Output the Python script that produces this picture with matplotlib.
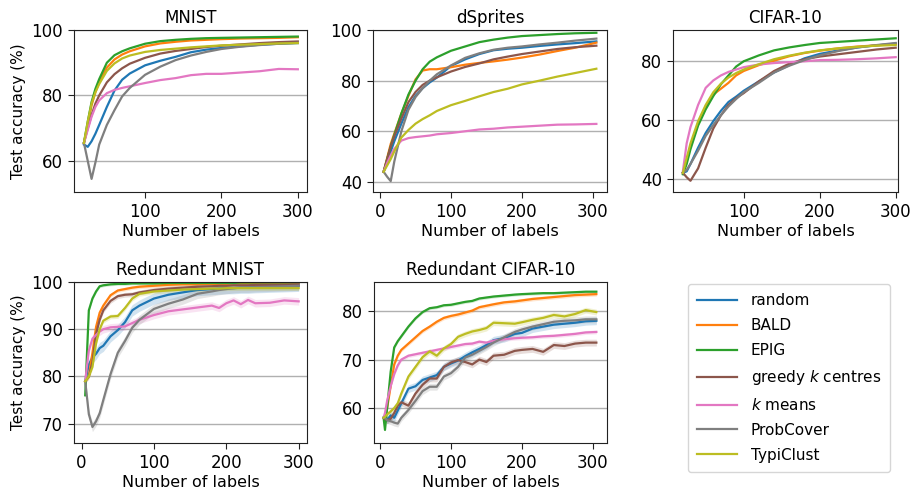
import numpy as np
import matplotlib
matplotlib.use('Agg')
import matplotlib.pyplot as plt

plt.rcParams['font.family'] = ['DejaVu Sans']
plt.rcParams['mathtext.fontset'] = 'dejavusans'

methods = ['random', 'BALD', 'EPIG', 'greedy $k$ centres', '$k$ means', 'ProbCover', 'TypiClust']
colors = ['#1f77b4', '#ff7f0e', '#2ca02c', '#8c564b', '#e377c2', '#7f7f7f', '#bcbd22']

# ---- MNIST ----
mnist_x = [20, 25, 30, 35, 40, 50, 60, 70, 80, 100, 120, 140, 160, 180, 200, 225, 250, 275, 300]
mnist_y = {
    'random':    [65, 64.3, 66, 68.3, 71, 76.5, 81.5, 84.8, 86.7, 89.2, 90.6, 91.8, 93.2, 94.0, 94.5, 95, 95.5, 95.8, 96.0],
    'BALD':      [65.5, 71, 77, 81, 84, 88.5, 91, 92.5, 93.5, 95, 95.9, 96.4, 96.8, 97, 97.2, 97.4, 97.5, 97.6, 97.8],
    'EPIG':      [65.5, 72, 78, 82, 85, 90, 92.3, 93.5, 94.4, 95.8, 96.6, 97, 97.3, 97.5, 97.6, 97.7, 97.8, 97.9, 98.0],
    'greedy':    [65.5, 70, 74, 77.5, 80, 84, 86.5, 88.3, 89.7, 91.5, 92.8, 93.6, 94.2, 94.8, 95.2, 95.6, 96, 96.3, 96.5],
    'kmeans':    [65.5, 69.5, 73.5, 76.5, 78.5, 80.7, 81.7, 82.3, 82.8, 83.8, 84.7, 85.3, 86.2, 86.6, 86.6, 87, 87.4, 88.1, 88.0],
    'probcover': [65.5, 60, 54.5, 59.5, 65, 71, 75.5, 79.7, 82.3, 86.3, 88.8, 90.8, 92.2, 93.3, 94.2, 94.9, 95.4, 95.8, 96.1],
    'typiclust': [65.5, 72, 77.5, 81, 83.5, 87.5, 89.8, 91.3, 92.2, 93.3, 93.9, 94.3, 94.7, 95, 95.3, 95.5, 95.7, 95.9, 96.0],
}

# ---- dSprites ----
dsprites_x = [5, 10, 15, 20, 30, 40, 50, 60, 70, 80, 100, 120, 140, 160, 180, 200, 225, 250, 275, 305]
dsprites_y = {
    'random':    [44, 48, 52, 56, 63, 69.5, 74, 77, 79.3, 81.2, 85.8, 88.4, 90.5, 92, 92.6, 93, 93.7, 94.3, 94.8, 95.5],
    'BALD':      [44, 49.5, 55, 59, 67, 74, 80.5, 84, 84.5, 84.5, 85.3, 86.3, 87, 87.6, 88.3, 89.1, 90.3, 91.7, 93, 95],
    'EPIG':      [44, 49, 54, 58.5, 67, 74.5, 80, 84.5, 87.5, 89.2, 91.8, 93.5, 95.2, 96.2, 97, 97.6, 98, 98.4, 98.7, 98.9],
    'greedy':    [44, 49, 54, 58, 65, 71.5, 75.5, 78.3, 80, 81.3, 83.6, 85.4, 86.8, 88.4, 89.5, 90.5, 91.5, 92.5, 93.2, 93.8],
    'kmeans':    [44, 47.5, 50.5, 53, 56.3, 57.3, 57.7, 58, 58.3, 58.8, 59.3, 60, 60.7, 61, 61.5, 61.8, 62.2, 62.6, 62.7, 62.9],
    'probcover': [44, 42, 40.3, 48, 60, 68.5, 73.5, 77, 80, 82.5, 86, 89, 90.8, 92.2, 93, 93.5, 94.3, 95, 95.8, 96.6],
    'typiclust': [44, 46.5, 49, 52, 57.5, 60.5, 63, 64.8, 66.3, 68, 70.3, 72, 73.8, 75.5, 76.8, 78.5, 80, 81.6, 83, 84.7],
}

# ---- CIFAR-10 ----
cifar_x = [20, 25, 30, 40, 50, 60, 70, 80, 90, 100, 120, 140, 160, 180, 200, 225, 250, 275, 300]
cifar_y = {
    'random':    [42, 42.5, 45, 50.5, 55.5, 59.5, 63, 66, 67.8, 69.8, 73, 76, 78.5, 80.8, 82.3, 83.5, 84.5, 85.2, 85.8],
    'BALD':      [42, 46, 51, 58.5, 64.5, 68.5, 70.5, 72.5, 75, 76.5, 78.5, 80, 81.5, 82.6, 83.4, 84.2, 84.8, 85.2, 85.6],
    'EPIG':      [41.5, 45, 50, 58, 63.5, 68, 72, 75, 78, 79.8, 81.8, 83.5, 84.5, 85.3, 86, 86.4, 86.8, 87.2, 87.6],
    'greedy':    [42, 40.5, 39.3, 43.5, 50.5, 57, 61.5, 65, 67.3, 69, 73, 76.5, 79, 80.5, 81.4, 82.2, 83, 83.8, 84.4],
    'kmeans':    [42.5, 52, 57.5, 65, 70.8, 73.3, 75, 76.2, 77, 77.8, 78.7, 79.2, 79.5, 79.8, 80.2, 80.3, 80.5, 80.8, 81.2],
    'probcover': [42, 43, 45, 49.5, 54.5, 58.2, 61.5, 64.5, 67, 69.3, 72.5, 76, 78.3, 80.2, 81.8, 83.3, 84.5, 85.3, 86],
    'typiclust': [42, 47, 52, 59.5, 65, 69.3, 72.2, 74.3, 75.8, 77, 78.8, 80.5, 81.7, 82.7, 83.5, 84.2, 84.7, 85.1, 85.3],
}

# ---- Redundant MNIST ----
rmnist_x = [5, 10, 15, 20, 25, 30, 40, 50, 60, 70, 80, 100, 120, 140, 160, 180, 190, 200, 210, 220, 230, 240, 260, 280, 300]
rmnist_y = {
    'random':    [79, 82.5, 84, 84.8, 86, 86.5, 88.5, 89.8, 91.5, 94, 95, 96.5, 97.3, 97.8, 98.3, 98.5, 98.6, 98.7, 98.7, 98.8, 98.8, 98.9, 99, 99.1, 99.2],
    'BALD':      [79, 80, 85, 90.5, 93.5, 95, 97.2, 98.2, 98.5, 98.8, 99, 99.2, 99.4, 99.5, 99.5, 99.6, 99.6, 99.6, 99.7, 99.7, 99.7, 99.7, 99.7, 99.8, 99.8],
    'EPIG':      [76, 94, 96.5, 98, 99.1, 99.3, 99.5, 99.6, 99.6, 99.7, 99.7, 99.7, 99.8, 99.8, 99.8, 99.8, 99.8, 99.8, 99.8, 99.9, 99.9, 99.9, 99.9, 99.9, 99.9],
    'greedy':    [79, 80, 83, 89, 92, 94, 96, 97, 97.3, 97.4, 97.8, 98.3, 98.6, 98.8, 99, 99.1, 99.2, 99.2, 99.3, 99.3, 99.3, 99.4, 99.4, 99.4, 99.5],
    'kmeans':    [79, 85.5, 88, 88.8, 89.5, 90, 90.4, 90.5, 90.6, 91.3, 92, 93, 93.8, 94.2, 94.6, 95, 94.5, 95.5, 96.1, 95.3, 96.2, 95.5, 95.6, 96.1, 95.9],
    'probcover': [79, 72, 69.3, 70.5, 72.2, 75, 80.5, 85, 87.5, 90.3, 92, 94.3, 95.4, 96.3, 97.5, 98, 98.3, 98.5, 98.7, 98.8, 98.8, 98.9, 99, 99.1, 99.2],
    'typiclust': [79, 80, 82, 87, 90, 91.8, 92.7, 92.8, 94.5, 96.5, 97.5, 98, 98.2, 98.4, 98.5, 98.6, 98.6, 98.7, 98.7, 98.7, 98.7, 98.7, 98.7, 98.7, 98.7],
}
rmnist_band = [1.2, 0.4, 0.3, 0.5, 0.8, 1.0, 0.5]

# ---- Redundant CIFAR-10 ----
rcifar_x = [5, 7, 10, 15, 20, 25, 30, 40, 50, 60, 70, 80, 90, 100, 110, 120, 130, 140, 150, 160, 175, 190, 200, 215, 230, 245, 260, 275, 290, 305]
rcifar_y = {
    'random':    [58, 58.5, 57.5, 58.5, 58, 59.5, 61, 64, 64.5, 65.8, 66.3, 66.8, 68.5, 69.2, 69.8, 70.7, 71.5, 72.2, 73, 74, 74.4, 75.3, 75.5, 76.4, 76.8, 77.2, 77.4, 77.6, 77.9, 78],
    'BALD':      [58, 57.5, 60, 64.5, 69, 70.8, 72, 73.3, 74.6, 75.9, 76.8, 77.8, 78.6, 79, 79.3, 79.7, 80.1, 80.8, 81.1, 81.4, 81.8, 82, 82.2, 82.5, 82.7, 82.9, 83.1, 83.3, 83.4, 83.5],
    'EPIG':      [58, 55.5, 60, 67.5, 72.5, 73.8, 74.8, 76.8, 78.5, 79.8, 80.6, 80.8, 81.2, 81.3, 81.6, 81.9, 82.1, 82.6, 82.8, 83, 83.2, 83.4, 83.5, 83.6, 83.7, 83.7, 83.8, 83.9, 84, 84],
    'greedy':    [58, 57.8, 57.5, 57.8, 59, 60.5, 61.2, 60.5, 63, 64.8, 66.1, 66.1, 68.5, 69.4, 69.9, 69.5, 69, 70, 69.5, 70.8, 71, 71.8, 72, 72.2, 71.6, 73, 72.8, 73.3, 73.5, 73.5],
    'kmeans':    [58, 59, 61.5, 64.5, 67, 68.8, 70, 70.8, 71.1, 71.4, 71.7, 72, 72.3, 72.6, 72.9, 73.2, 73.3, 73.7, 73.5, 73.9, 74.2, 74.4, 74.5, 74.6, 74.8, 74.9, 75.1, 75.3, 75.6, 75.7],
    'probcover': [58, 58, 57.5, 57.3, 57, 56.8, 58, 59.6, 61.5, 63.5, 64.4, 64.4, 66.5, 67.2, 68.5, 70.4, 71, 71.8, 72.6, 73.5, 74.6, 75.7, 76.2, 76.8, 77.3, 77.8, 78, 78.1, 78.3, 78.3],
    'typiclust': [58, 58.2, 58.7, 59.3, 60, 61, 63, 66.5, 68.5, 70.5, 71.7, 70.8, 72.3, 73.2, 74.7, 75.3, 75.8, 76.1, 76.5, 77.6, 77.5, 77.4, 77.7, 78.2, 78.6, 79.2, 78.9, 79.4, 80.2, 79.8],
}
rcifar_band = [0.8, 0.4, 0.3, 0.7, 0.4, 0.7, 0.6]

keys = ['random', 'BALD', 'EPIG', 'greedy', 'kmeans', 'probcover', 'typiclust']

W, H = 912, 492
fig = plt.figure(figsize=(W / 100, H / 100), dpi=100)


def make_ax(x0, y0, x1, y1):
    return fig.add_axes([x0 / W, 1 - y1 / H, (x1 - x0) / W, (y1 - y0) / H])


panels = [
    # title, x, ys, band, rect, xlim, ylim, yticks, xticks, ylabel
    ('MNIST', mnist_x, mnist_y, None, (74, 30, 307, 192), (7, 312), (50.5, 100), [60, 80, 100], [100, 200, 300], True),
    ('dSprites', dsprites_x, dsprites_y, None, (373, 30, 607, 192), (-10, 320), (36, 100), [40, 60, 80, 100], [0, 100, 200, 300], False),
    ('CIFAR-10', cifar_x, cifar_y, None, (673, 30, 898, 192), (7, 303), (35.5, 90.4), [40, 60, 80], [100, 200, 300], False),
    ('Redundant MNIST', rmnist_x, rmnist_y, rmnist_band, (74, 282, 307, 443), (-10.5, 311.5), (65.9, 100), [70, 80, 90, 100], [0, 100, 200, 300], True),
    ('Redundant CIFAR-10', rcifar_x, rcifar_y, rcifar_band, (374, 282, 607, 443), (-8.5, 320), (52.8, 86), [60, 70, 80], [0, 100, 200, 300], False),
]

handles = []
for title, xs, ys, band, rect, xlim, ylim, yticks, xticks, ylab in panels:
    ax = make_ax(*rect)
    x = np.asarray(xs)
    for i, k in enumerate(keys):
        y = np.asarray(ys[k])
        if band is not None:
            ax.fill_between(x, y - band[i], y + band[i], color=colors[i], alpha=0.2, lw=0)
        line, = ax.plot(x, y, color=colors[i], lw=1.6, label=methods[i])
        if title == 'MNIST':
            handles.append(line)
    ax.set_xlim(*xlim)
    ax.set_ylim(*ylim)
    ax.set_yticks(yticks)
    ax.set_xticks(xticks)
    ax.yaxis.grid(True, color='#b0b0b0', lw=1)
    ax.set_axisbelow(True)
    ax.tick_params(labelsize=12, length=4, pad=4, color='#222222')
    ax.set_title(title, fontsize=12, pad=5)
    ax.set_xlabel('Number of labels', fontsize=11.5, labelpad=2)
    if ylab:
        ax.set_ylabel('Test accuracy (%)', fontsize=11)
    for s in ax.spines.values():
        s.set_color('#222222')

leg = fig.legend(handles=handles, labels=methods, loc='upper left',
                 bbox_to_anchor=(688 / W, 1 - 284 / H), borderaxespad=0,
                 fontsize=11, frameon=True, fancybox=True, edgecolor='#cccccc',
                 handlelength=2.6, handletextpad=0.9, labelspacing=0.65,
                 borderpad=0.6)

fig.savefig('out.png', dpi=100)
